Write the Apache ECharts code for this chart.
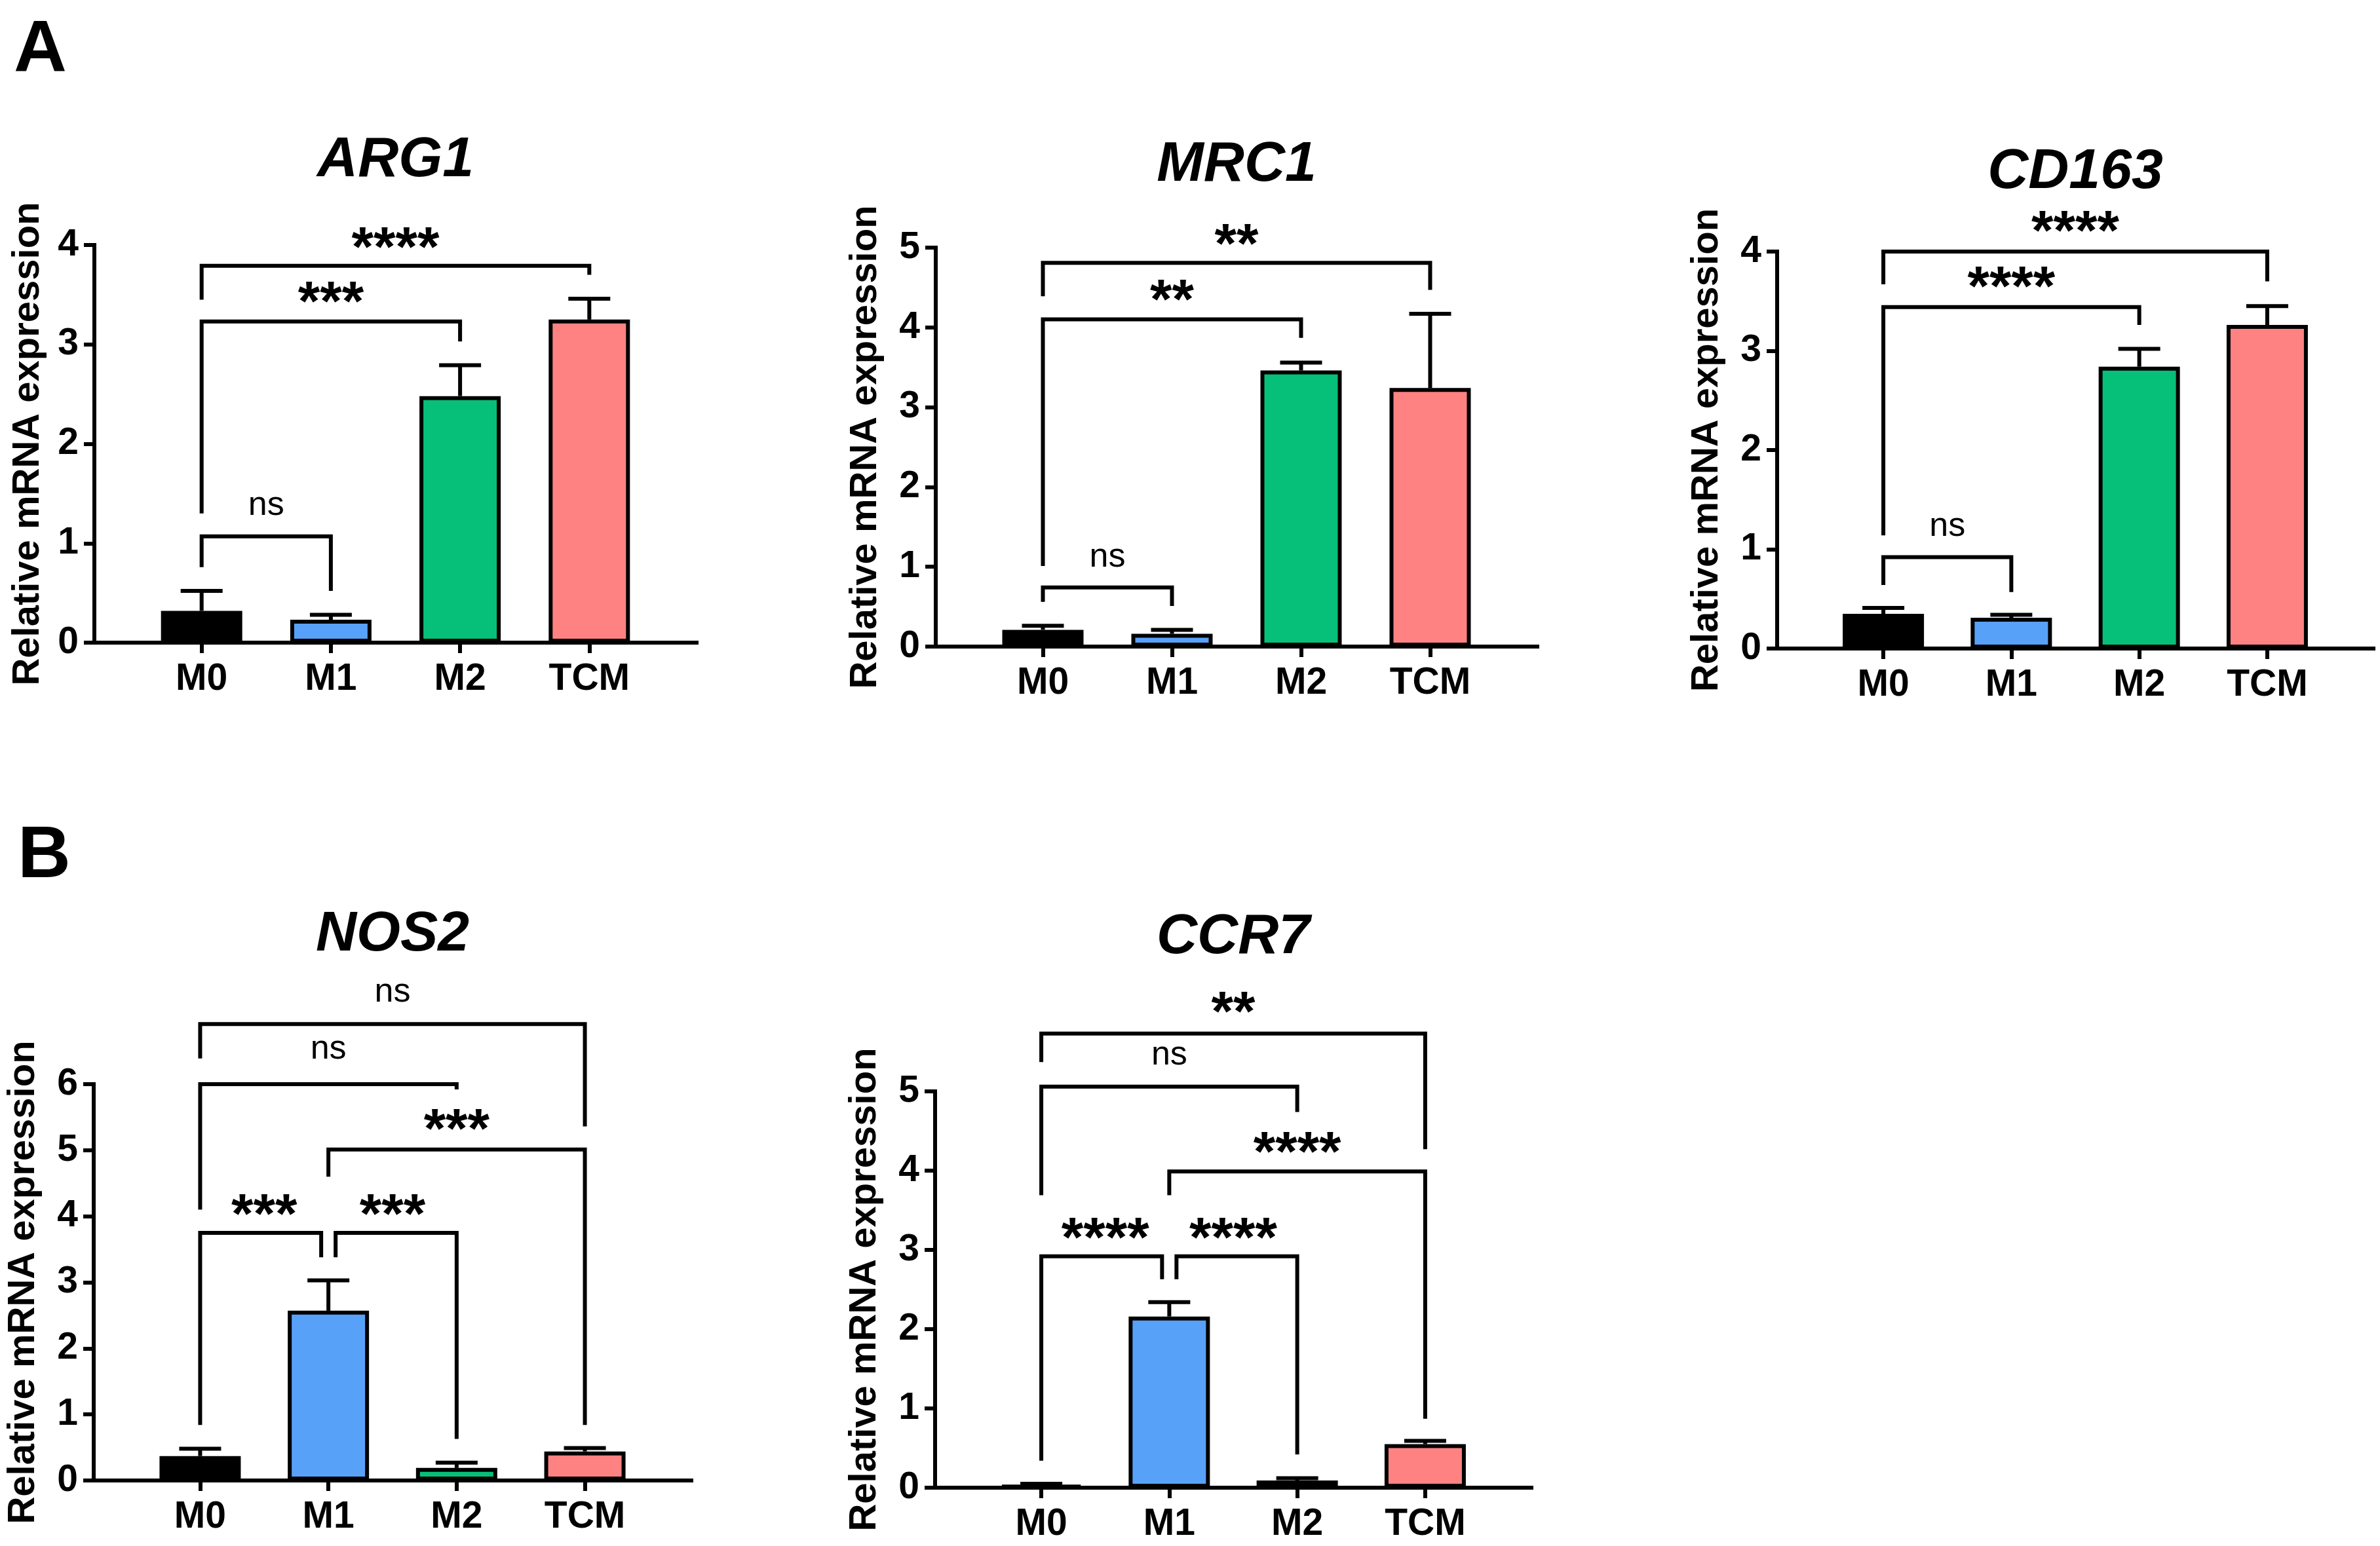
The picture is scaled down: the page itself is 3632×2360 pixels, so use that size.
<!DOCTYPE html>
<html>
<head>
<meta charset="utf-8">
<script src="https://cdn.jsdelivr.net/npm/echarts@6/dist/echarts.min.js"></script>
<style>
html, body { margin: 0; padding: 0; background: #fff; }
#chart { width: 3632px; height: 2360px; }
</style>
</head>
<body>
<div id="chart"></div>
<script>
var categories = ['M0', 'M1', 'M2', 'TCM'];
var barColors = ['#000000', '#58a1f9', '#06bf78', '#ff8282'];

// mean and upper error (SD) per group
var arg1Mean = [0.32, 0.23, 2.48, 3.25];
var arg1Err = [0.20, 0.05, 0.31, 0.21];
var mrc1Mean = [0.21, 0.16, 3.46, 3.24];
var mrc1Err = [0.05, 0.05, 0.10, 0.93];
var cd163Mean = [0.35, 0.31, 2.84, 3.26];
var cd163Err = [0.06, 0.03, 0.18, 0.19];
var nos2Mean = [0.37, 2.57, 0.19, 0.44];
var nos2Err = [0.11, 0.46, 0.08, 0.05];
var ccr7Mean = [0.03, 2.16, 0.09, 0.55];
var ccr7Err = [0.02, 0.18, 0.03, 0.04];

// significance brackets: from, to, bracket level, left leg end, right leg end, label level, label
var arg1Sig = [
	[0, 1, 1.07, 0.76, 0.52, 1.35, 'ns'],
	[0, 2, 3.23, 1.30, 3.03, 3.52, '***'],
	[0, 3, 3.79, 3.45, 3.70, 4.07, '****']
];
var mrc1Sig = [
	[0, 1, 0.74, 0.56, 0.51, 1.08, 'ns'],
	[0, 2, 4.10, 1.01, 3.87, 4.46, '**'],
	[0, 3, 4.81, 4.39, 4.47, 5.16, '**']
];
var cd163Sig = [
	[0, 1, 0.92, 0.64, 0.57, 1.20, 'ns'],
	[0, 2, 3.44, 1.14, 3.26, 3.74, '****'],
	[0, 3, 4.00, 3.67, 3.70, 4.30, '****']
];
var nos2Sig = [
	[0, 1, 3.75, 0.84, 3.38, 4.17, '***'],
	[1, 2, 3.75, 3.38, 0.63, 4.17, '***'],
	[1, 3, 5.01, 4.60, 0.84, 5.46, '***'],
	[0, 2, 6.00, 4.10, 5.92, 6.48, 'ns'],
	[0, 3, 6.91, 6.39, 5.36, 7.35, 'ns']
];
var ccr7Sig = [
	[0, 1, 2.92, 0.34, 2.63, 3.27, '****'],
	[1, 2, 2.92, 2.63, 0.42, 3.27, '****'],
	[1, 3, 3.99, 3.69, 0.87, 4.35, '****'],
	[0, 2, 5.06, 3.69, 4.74, 5.42, 'ns'],
	[0, 3, 5.73, 5.37, 4.27, 6.12, '**']
];

var FONT = '"Liberation Sans", Arial, Helvetica, sans-serif';
var LW = 6;

var panels = [
	{name: 'ARG1', mean: arg1Mean, err: arg1Err, sig: arg1Sig, yMax: 4, grid: {left: 144, top: 374, width: 919, height: 607}, titleY: 245, nameGap: 72},
	{name: 'MRC1', mean: mrc1Mean, err: mrc1Err, sig: mrc1Sig, yMax: 5, grid: {left: 1428, top: 378, width: 918, height: 609}, titleY: 252, nameGap: 78},
	{name: 'CD163', mean: cd163Mean, err: cd163Err, sig: cd163Sig, yMax: 4, grid: {left: 2712, top: 384, width: 910, height: 606}, titleY: 263, nameGap: 78},
	{name: 'NOS2', mean: nos2Mean, err: nos2Err, sig: nos2Sig, yMax: 6, grid: {left: 143, top: 1655, width: 912, height: 605}, titleY: 1427, nameGap: 78},
	{name: 'CCR7', mean: ccr7Mean, err: ccr7Err, sig: ccr7Sig, yMax: 5, grid: {left: 1427, top: 1666, width: 910, height: 605}, titleY: 1431, nameGap: 78}
];

var option = {
	backgroundColor: '#fff',
	animation: false,
	grid: [], xAxis: [], yAxis: [], series: [],
	graphic: [
		{type: 'text', left: 21, top: 22, style: {text: 'A', font: 'bold 112px ' + FONT, fill: '#000'}},
		{type: 'text', left: 27, top: 1252, style: {text: 'B', font: 'bold 112px ' + FONT, fill: '#000'}}
	]
};

function bracketRenderer(sig) {
	return function (params, api) {
		var s = sig[params.dataIndex];
		var nudge = 11;
		var dl = 0, dr = 0;
		sig.forEach(function (o) {
			if (o === s || o[2] !== s[2]) return;
			if (o[1] === s[0]) dl = nudge;
			if (o[0] === s[1]) dr = -nudge;
		});
		var pLine = api.coord([api.value(0), api.value(2)]);
		var pL = api.coord([api.value(0), api.value(3)]);
		var pR = api.coord([api.value(1), api.value(4)]);
		var pEnd = api.coord([api.value(1), api.value(2)]);
		var pLab = api.coord([(api.value(0) + api.value(1)) / 2, api.value(5)]);
		var isNs = s[6] === 'ns';
		var fs = isNs ? 52 : 86;
		var shift = isNs ? -0.09 * fs : 0.22 * fs;
		return {
			type: 'group',
			children: [
				{type: 'polyline', shape: {points: [[pL[0] + dl, pL[1]], [pLine[0] + dl, pLine[1]], [pEnd[0] + dr, pEnd[1]], [pR[0] + dr, pR[1]]]},
					style: {stroke: '#000', lineWidth: LW, fill: null, lineJoin: 'miter'}},
				{type: 'text', x: pLab[0], y: pLab[1] + shift,
					style: {text: s[6], fontFamily: FONT, fontSize: fs, fontWeight: isNs ? 'normal' : 'bold', fill: '#000', align: 'center', verticalAlign: 'middle'}}
			]
		};
	};
}

function errRenderer(params, api) {
	var pB = api.coord([api.value(0), api.value(1)]);
	var pT = api.coord([api.value(0), api.value(2)]);
	var half = 32;
	return {
		type: 'group',
		children: [
			{type: 'line', shape: {x1: pB[0], y1: pB[1], x2: pT[0], y2: pT[1]}, style: {stroke: '#000', lineWidth: LW}},
			{type: 'line', shape: {x1: pT[0] - half, y1: pT[1], x2: pT[0] + half, y2: pT[1]}, style: {stroke: '#000', lineWidth: LW}}
		]
	};
}

panels.forEach(function (p, k) {
	option.grid.push(p.grid);
	option.xAxis.push({
		type: 'value', gridIndex: k, min: -0.83, max: 3.83,
		axisLine: {show: true, onZero: false, lineStyle: {color: '#000', width: LW, cap: 'square'}},
		axisTick: {show: true, customValues: [0, 1, 2, 3], length: 16, lineStyle: {color: '#000', width: LW}},
		axisLabel: {customValues: [0, 1, 2, 3], margin: 28, color: '#000', fontFamily: FONT, fontWeight: 'bold', fontSize: 57,
			formatter: function (v) { return categories[Math.round(v)]; }},
		splitLine: {show: false}
	});
	option.yAxis.push({
		type: 'value', gridIndex: k, min: 0, max: p.yMax, interval: 1,
		name: 'Relative mRNA expression', nameLocation: 'middle', nameGap: p.nameGap,
		nameTextStyle: {color: '#000', fontFamily: FONT, fontWeight: 'bold', fontSize: 58},
		axisLine: {show: true, onZero: false, lineStyle: {color: '#000', width: LW, cap: 'square'}},
		axisTick: {show: true, length: 16, lineStyle: {color: '#000', width: LW}},
		axisLabel: {margin: 24, color: '#000', fontFamily: FONT, fontWeight: 'bold', fontSize: 57},
		splitLine: {show: false}
	});
	option.graphic.push({
		type: 'text', x: p.grid.left + p.grid.width / 2, y: p.titleY,
		style: {text: p.name, font: 'italic bold 86px ' + FONT, fill: '#000', align: 'center', verticalAlign: 'middle'}
	});
	option.series.push({
		type: 'bar', xAxisIndex: k, yAxisIndex: k, barWidth: 124, z: 3,
		data: p.mean.map(function (v, i) {
			return {value: [i, v], itemStyle: {color: barColors[i], borderColor: '#000', borderWidth: LW}};
		})
	});
	option.series.push({
		type: 'custom', xAxisIndex: k, yAxisIndex: k, z: 2,
		renderItem: errRenderer,
		data: p.mean.map(function (v, i) { return [i, v, v + p.err[i]]; })
	});
	option.series.push({
		type: 'custom', xAxisIndex: k, yAxisIndex: k, z: 4, clip: false,
		renderItem: bracketRenderer(p.sig),
		data: p.sig.map(function (s) { return s.slice(0, 6); })
	});
});

var chart = echarts.init(document.getElementById('chart'));
chart.setOption(option);
</script>
</body>
</html>
